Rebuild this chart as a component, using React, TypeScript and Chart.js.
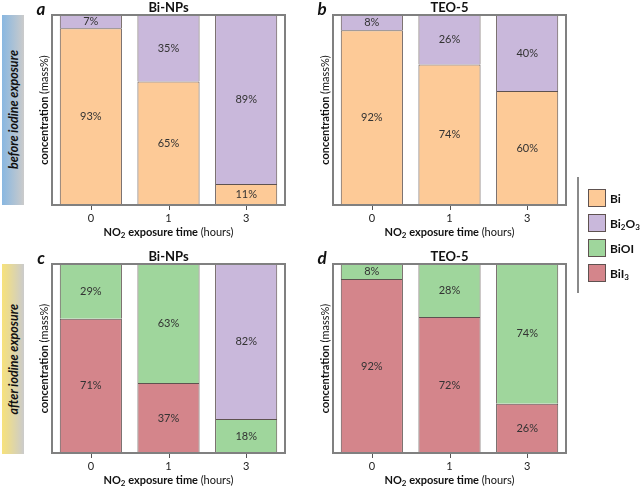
import React, { useEffect, useRef } from 'react';
import { Chart, registerables } from 'chart.js';
Chart.register(...registerables);

// ---------- data ----------
const categories = ['0', '1', '3'];
const seriesNames = ['Bi', 'Bi₂O₃', 'BiOI', 'BiI₃'];
const biNPsBefore_Bi = [93, 65, 11];
const biNPsBefore_Bi2O3 = [7, 35, 89];
const teo5Before_Bi = [92, 74, 60];
const teo5Before_Bi2O3 = [8, 26, 40];
const biNPsAfter_BiI3 = [71, 37, 0];
const biNPsAfter_BiOI = [29, 63, 18];
const biNPsAfter_Bi2O3 = [0, 0, 82];
const teo5After_BiI3 = [92, 72, 26];
const teo5After_BiOI = [8, 28, 74];

const COLORS: Record<string, string> = {
  'Bi': '#fdca97',
  'Bi₂O₃': '#c9b8db',
  'BiOI': '#9fd69c',
  'BiI₃': '#d4858b',
};
const FONT = 'Lato, "Open Sans", sans-serif';

type Run = { text: string; font: string; dy?: number };

function drawRuns(ctx: CanvasRenderingContext2D, runs: Run[], cx: number, cy: number) {
  let total = 0;
  runs.forEach((r) => { ctx.font = r.font; total += ctx.measureText(r.text).width; });
  let x = cx - total / 2;
  ctx.textAlign = 'left';
  ctx.textBaseline = 'middle';
  runs.forEach((r) => {
    ctx.font = r.font;
    ctx.fillText(r.text, x, cy + (r.dy || 0));
    x += ctx.measureText(r.text).width;
  });
}

const decorPlugin = {
  id: 'panelDecor',
  afterDatasetsDraw(chart: any, _args: any, opts: any) {
    const { ctx, chartArea: ca } = chart;
    ctx.save();
    // segment labels
    chart.data.datasets.forEach((ds: any, di: number) => {
      const meta = chart.getDatasetMeta(di);
      meta.data.forEach((el: any, i: number) => {
        const v = ds.data[i];
        if (!v) return;
        const p = el.getProps(['x', 'y', 'base'], true);
        ctx.fillStyle = '#333';
        ctx.font = `11px ${FONT}`;
        ctx.textAlign = 'center';
        ctx.textBaseline = 'middle';
        ctx.fillText(v + '%', p.x, (p.y + p.base) / 2);
      });
    });
    // frame
    ctx.strokeStyle = '#808080';
    ctx.lineWidth = 2;
    ctx.strokeRect(ca.left, ca.top, ca.right - ca.left, ca.bottom - ca.top);
    // tick marks
    const xs = chart.scales.x;
    ctx.lineWidth = 1;
    ctx.strokeStyle = '#555';
    chart.data.labels.forEach((_l: any, i: number) => {
      const px = Math.round(xs.getPixelForValue(i)) + 0.5;
      ctx.beginPath();
      ctx.moveTo(px, ca.bottom + 1);
      ctx.lineTo(px, ca.bottom + 5);
      ctx.stroke();
    });
    ctx.fillStyle = '#111';
    // title
    ctx.font = `bold 13px ${FONT}`;
    ctx.textAlign = 'center';
    ctx.textBaseline = 'middle';
    ctx.fillText(opts.title, (ca.left + ca.right) / 2, ca.top - 7);
    // panel letter
    ctx.font = `italic bold 17px ${FONT}`;
    ctx.fillText(opts.letter, 11, ca.top - 5);
    // x title
    drawRuns(ctx, [
      { text: 'NO', font: `bold 11px ${FONT}` },
      { text: '2', font: `bold 8px ${FONT}`, dy: 3 },
      { text: ' exposure time ', font: `bold 11px ${FONT}` },
      { text: '(hours)', font: `11px ${FONT}` },
    ], (ca.left + ca.right) / 2, ca.bottom + 27);
    // y title
    ctx.save();
    ctx.translate(14, (ca.top + ca.bottom) / 2);
    ctx.rotate(-Math.PI / 2);
    drawRuns(ctx, [
      { text: 'concentration ', font: `bold 11px ${FONT}` },
      { text: '(mass%)', font: `11px ${FONT}` },
    ], 0, 0);
    ctx.restore();
    ctx.restore();
  },
};

type Series = { name: string; data: number[] };

function Panel(props: {
  left: number; top: number; width: number; height: number; padTop: number;
  series: Series[]; title: string; letter: string;
}) {
  const ref = useRef<HTMLCanvasElement>(null);
  useEffect(() => {
    if (!ref.current) return;
    const chart = new Chart(ref.current, {
      type: 'bar',
      data: {
        labels: categories,
        datasets: props.series.map((s) => ({
          label: s.name,
          data: s.data,
          backgroundColor: COLORS[s.name],
          borderColor: '#5e5250',
          borderWidth: { top: 1, left: 1, right: 1, bottom: 0 },
          borderSkipped: false,
          barPercentage: 0.8,
          categoryPercentage: 1.0,
        })),
      },
      options: {
        responsive: false,
        maintainAspectRatio: false,
        animation: false,
        layout: { padding: { top: props.padTop, left: 22, right: 26, bottom: 0 } },
        scales: {
          x: {
            stacked: true,
            grid: { display: false, drawTicks: false },
            border: { display: false },
            ticks: { padding: 7, color: '#222', font: { family: FONT, size: 11 } },
            afterFit: (scale: any) => { scale.height = 35; },
          },
          y: { stacked: true, min: 0, max: 100, display: false },
        },
        plugins: {
          legend: { display: false },
          tooltip: { enabled: false },
          panelDecor: { title: props.title, letter: props.letter },
        } as any,
      },
      plugins: [decorPlugin],
    });
    return () => chart.destroy();
  }, []);
  return (
    <canvas
      ref={ref}
      width={props.width}
      height={props.height}
      style={{ position: 'absolute', left: props.left, top: props.top, width: props.width, height: props.height }}
    />
  );
}

function SideLabel(props: { top: number; height: number; text: string; from: string }) {
  return (
    <div style={{
      position: 'absolute', left: 2, top: props.top, width: 22, height: props.height,
      background: `linear-gradient(to right, ${props.from}, #cbcbcb)`,
      display: 'flex', alignItems: 'center', justifyContent: 'center',
    }}>
      <span style={{
        writingMode: 'vertical-rl', transform: 'rotate(180deg)',
        font: `italic bold 12.5px ${FONT}`, color: '#111', whiteSpace: 'nowrap',
      }}>{props.text}</span>
    </div>
  );
}

function LegendItem(props: { name: string; top: number; children: React.ReactNode }) {
  return (
    <div style={{ position: 'absolute', left: 588, top: props.top - 9, height: 18, display: 'flex', alignItems: 'center' }}>
      <div style={{ width: 16, height: 16, background: COLORS[props.name], border: '1px solid #5e5250' }} />
      <div style={{ marginLeft: 4, font: `bold 12px ${FONT}`, color: '#111', whiteSpace: 'nowrap' }}>{props.children}</div>
    </div>
  );
}

const subStyle: React.CSSProperties = { fontSize: 8, verticalAlign: -2, lineHeight: 0 };

export default function App() {
  return (
    <div style={{ position: 'absolute', left: 0, top: 0, width: 640, height: 488, background: '#fff', overflow: 'hidden' }}>
      <SideLabel top={15} height={190} text="before iodine exposure" from="#88b7e1" />
      <SideLabel top={264} height={190} text="after iodine exposure" from="#f7e27b" />
      <Panel left={30} top={0} width={281} height={240} padTop={15} title="Bi-NPs" letter="a"
        series={[{ name: 'Bi', data: biNPsBefore_Bi }, { name: 'Bi₂O₃', data: biNPsBefore_Bi2O3 }]} />
      <Panel left={311} top={0} width={281} height={240} padTop={15} title="TEO-5" letter="b"
        series={[{ name: 'Bi', data: teo5Before_Bi }, { name: 'Bi₂O₃', data: teo5Before_Bi2O3 }]} />
      <Panel left={30} top={240} width={281} height={248} padTop={24} title="Bi-NPs" letter="c"
        series={[{ name: 'BiI₃', data: biNPsAfter_BiI3 }, { name: 'BiOI', data: biNPsAfter_BiOI }, { name: 'Bi₂O₃', data: biNPsAfter_Bi2O3 }]} />
      <Panel left={311} top={240} width={281} height={248} padTop={24} title="TEO-5" letter="d"
        series={[{ name: 'BiI₃', data: teo5After_BiI3 }, { name: 'BiOI', data: teo5After_BiOI }]} />
      <div style={{ position: 'absolute', left: 577, top: 177, width: 2, height: 116, background: '#8a8a8a' }} />
      <LegendItem name={seriesNames[0]} top={198}>Bi</LegendItem>
      <LegendItem name={seriesNames[1]} top={223}>Bi<sub style={subStyle}>2</sub>O<sub style={subStyle}>3</sub></LegendItem>
      <LegendItem name={seriesNames[2]} top={248}>BiOI</LegendItem>
      <LegendItem name={seriesNames[3]} top={273}>BiI<sub style={subStyle}>3</sub></LegendItem>
    </div>
  );
}
